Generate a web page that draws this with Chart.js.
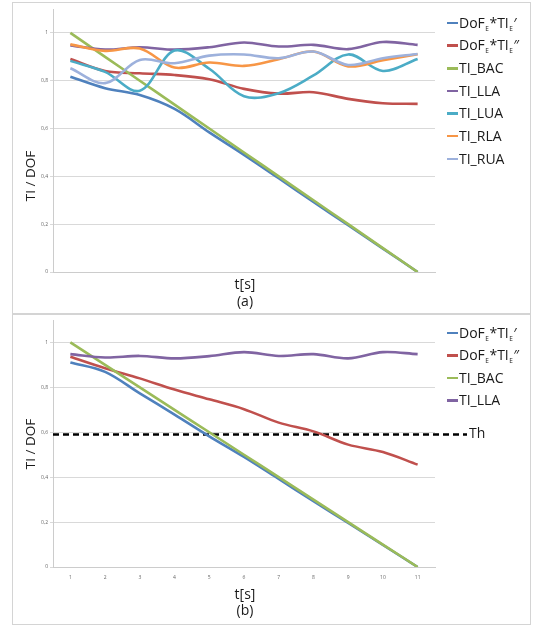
<!DOCTYPE html>
<html>
<head>
<meta charset="utf-8">
<script src="https://cdn.jsdelivr.net/npm/chart.js@4.4.1/dist/chart.umd.min.js"></script>
<style>
html,body{margin:0;padding:0;background:#fff;}
body{width:534px;height:627px;position:relative;overflow:hidden;font-family:"Open Sans",sans-serif;color:#1a1a1a;}
.box{position:absolute;left:12px;top:2px;width:519px;height:623px;border:1.5px solid #d4d4d4;box-sizing:border-box;}
.divider{position:absolute;left:12px;top:313px;width:519px;height:1.5px;background:#d4d4d4;}
canvas{position:absolute;left:0;}
.ytitle{position:absolute;font-size:13.5px;transform:translate(-50%,-50%) rotate(-90deg);white-space:nowrap;}
.ctr{position:absolute;transform:translate(-50%,-50%);font-size:14px;white-space:nowrap;}
.leg{position:absolute;left:447px;height:18px;width:90px;}
.leg i{position:absolute;left:0;top:8px;width:11px;height:2.5px;}
.leg span{position:absolute;left:12px;top:0;font-size:14px;line-height:18px;white-space:nowrap;}
.leg sub{font-size:6.5px;vertical-align:-3px;margin:0 0.5px;}
.th{position:absolute;left:469px;top:424px;font-size:14px;line-height:18px;}
</style>
</head>
<body>
<div class="box"></div>
<div class="divider"></div>
<canvas id="chartA" width="534" height="310" style="top:0"></canvas>
<canvas id="chartB" width="534" height="317" style="top:310px"></canvas>

<div class="ytitle" style="left:29.5px;top:176px">TI / DOF</div>
<div class="ytitle" style="left:29.5px;top:444px">TI / DOF</div>
<div class="ctr" style="left:245px;top:283px">t[s]</div>
<div class="ctr" style="left:245px;top:300px">(a)</div>
<div class="ctr" style="left:245px;top:593px">t[s]</div>
<div class="ctr" style="left:245px;top:609px">(b)</div>
<div id="legendA"></div>
<div id="legendB"></div>
<div class="th">Th</div>

<script>
// ---- data ----
const tSeconds = ['1','2','3','4','5','6','7','8','9','10','11'];
const yTickLabels = ['0','0,2','0,4','0,6','0,8','1'];

// panel (a)
const dofTiE1_a = [0.817, 0.769, 0.740, 0.682, 0.584, 0.490, 0.392, 0.293, 0.196, 0.098, 0.0];
const dofTiE2_a = [0.891, 0.841, 0.831, 0.824, 0.806, 0.766, 0.746, 0.752, 0.724, 0.706, 0.703];
const tiBac_a   = [1.0, 0.9, 0.8, 0.7, 0.6, 0.5, 0.4, 0.3, 0.2, 0.1, 0.0];
const tiLla_a   = [0.948, 0.930, 0.940, 0.930, 0.940, 0.960, 0.943, 0.950, 0.932, 0.962, 0.950];
const tiLua_a   = [0.883, 0.837, 0.758, 0.926, 0.850, 0.735, 0.748, 0.822, 0.910, 0.841, 0.891];
const tiRla_a   = [0.952, 0.925, 0.935, 0.855, 0.876, 0.862, 0.890, 0.922, 0.860, 0.886, 0.911];
const tiRua_a   = [0.852, 0.790, 0.887, 0.873, 0.905, 0.910, 0.894, 0.922, 0.866, 0.894, 0.912];

// panel (b)
const dofTiE1_b = [0.911, 0.869, 0.773, 0.679, 0.582, 0.490, 0.392, 0.293, 0.196, 0.098, 0.0];
const dofTiE2_b = [0.936, 0.885, 0.840, 0.790, 0.747, 0.703, 0.643, 0.604, 0.545, 0.512, 0.456];
const tiBac_b   = [1.0, 0.9, 0.8, 0.7, 0.6, 0.5, 0.4, 0.3, 0.2, 0.1, 0.0];
const tiLla_b   = [0.948, 0.933, 0.940, 0.929, 0.939, 0.957, 0.940, 0.948, 0.929, 0.957, 0.948];
const thValue = 0.59;

const seriesNamesA = ['DoF_E*TI_E′', 'DoF_E*TI_E″', 'TI_BAC', 'TI_LLA', 'TI_LUA', 'TI_RLA', 'TI_RUA'];
const seriesNamesB = ['DoF_E*TI_E′', 'DoF_E*TI_E″', 'TI_BAC', 'TI_LLA'];
const colors = ['#4F81BD', '#C0504D', '#9BBB59', '#8064A2', '#4BACC6', '#F79646', '#9DB1DC'];

Chart.defaults.font.family = '"Open Sans", sans-serif';

function mkDatasets(names, arrays) {
  return arrays.map((d, i) => ({
    label: names[i],
    data: d,
    borderColor: colors[i],
    backgroundColor: colors[i],
    borderWidth: 2.6,
    pointRadius: 0,
    tension: 0.35,
    fill: false,
    order: -i
  }));
}

const thresholdPlugin = {
  id: 'threshold',
  beforeDatasetsDraw(chart, args, o) {
    if (!o || o.value == null) return;
    const y = chart.scales.y.getPixelForValue(o.value);
    const ctx = chart.ctx;
    ctx.save();
    ctx.setLineDash([6, 4]);
    ctx.lineWidth = 2.5;
    ctx.strokeStyle = '#000';
    ctx.beginPath();
    ctx.moveTo(chart.chartArea.left, y);
    ctx.lineTo(o.endX, y);
    ctx.stroke();
    ctx.restore();
  }
};

function mkOptions(showX, padding, xHeight, th) {
  return {
    responsive: false,
    animation: false,
    events: [],
    layout: { padding },
    plugins: {
      legend: { display: false },
      tooltip: { enabled: false },
      threshold: th
    },
    scales: {
      x: {
        type: 'category',
        offset: true,
        afterFit(s) { s.height = xHeight; },
        grid: { display: false, drawTicks: false },
        border: { display: true, color: '#cccccc', width: 1 },
        ticks: { display: showX, font: { size: 5 }, color: '#666', padding: 8, autoSkip: false, maxRotation: 0 }
      },
      y: {
        min: 0,
        max: 1.1,
        afterFit(s) { s.width = 33; },
        ticks: {
          stepSize: 0.2,
          includeBounds: false,
          font: { size: 5 },
          color: '#666',
          padding: 2,
          callback: (v, i) => yTickLabels[i]
        },
        grid: { color: '#d9d9d9', lineWidth: 1, tickLength: 3 },
        border: { display: true, color: '#cccccc', width: 1 }
      }
    }
  };
}

new Chart(document.getElementById('chartA'), {
  type: 'line',
  data: {
    labels: tSeconds,
    datasets: mkDatasets(seriesNamesA, [dofTiE1_a, dofTiE2_a, tiBac_a, tiLla_a, tiLua_a, tiRla_a, tiRua_a])
  },
  options: mkOptions(false, { left: 20, right: 99, top: 9, bottom: 20 }, 18, false),
  plugins: [thresholdPlugin]
});

new Chart(document.getElementById('chartB'), {
  type: 'line',
  data: {
    labels: tSeconds,
    datasets: mkDatasets(seriesNamesB, [dofTiE1_b, dofTiE2_b, tiBac_b, tiLla_b])
  },
  options: mkOptions(true, { left: 20, right: 99, top: 10, bottom: 40 }, 20, { value: thValue, endX: 467 }),
  plugins: [thresholdPlugin]
});

// HTML legends (subscripts need markup)
function legendHTML(name) {
  return name.replace(/_E/g, '<sub>E</sub>');
}
function buildLegend(id, names, top0, step) {
  const el = document.getElementById(id);
  names.forEach((n, i) => {
    const row = document.createElement('div');
    row.className = 'leg';
    row.style.top = (top0 + i * step - 9) + 'px';
    const isDof = n.startsWith('DoF');
    row.innerHTML = '<i style="background:' + colors[i] + '"></i><span>' + (isDof ? legendHTML(n) : n) + '</span>';
    el.appendChild(row);
  });
}
buildLegend('legendA', seriesNamesA, 22.7, 22.65);
buildLegend('legendB', seriesNamesB, 332.7, 22.5);
</script>
</body>
</html>
